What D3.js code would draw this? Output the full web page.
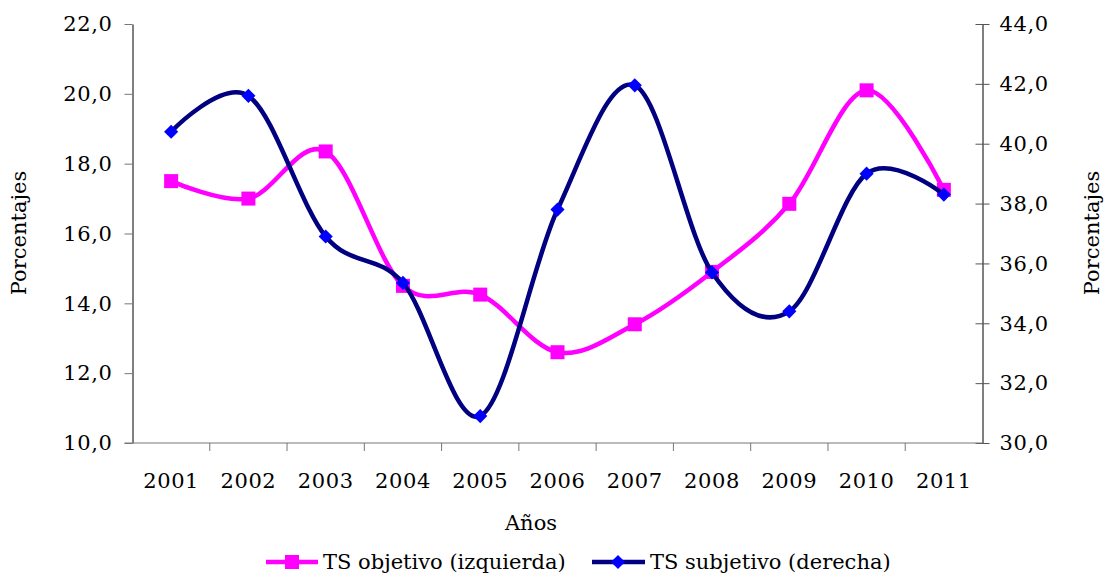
<!DOCTYPE html>
<html>
<head>
<meta charset="utf-8">
<script src="https://cdn.jsdelivr.net/npm/d3@7"></script>
<style>
  html, body { margin: 0; padding: 0; background: #fff; }
  svg { display: block; font-family: "DejaVu Serif", serif; }
</style>
</head>
<body>
<svg id="chart" width="1107" height="574"></svg>
<script>
const years = ["2001","2002","2003","2004","2005","2006","2007","2008","2009","2010","2011"];
const tsObjetivo = [17.5, 17.0, 18.35, 14.5, 14.25, 12.6, 13.4, 14.9, 16.85, 20.1, 17.25];
const tsSubjetivo = [40.4, 41.6, 36.9, 35.35, 30.9, 37.8, 41.95, 35.7, 34.4, 39.0, 38.3];
const leftTicks = [10, 12, 14, 16, 18, 20, 22];
const rightTicks = [30, 32, 34, 36, 38, 40, 42, 44];
const seriesNames = ["TS objetivo (izquierda)", "TS subjetivo (derecha)"];
const xTitle = "Años";
const yTitle = "Porcentajes";

(function () {
const svg = d3.select("#chart");
const pLeft = 132.5, pRight = 982.5, pTop = 24, pBottom = 443;
const fmt = d => d.toFixed(1).replace(".", ",");

const x = d3.scaleBand().domain(years).range([pLeft, pRight]);
const cx = d => x(d) + x.bandwidth() / 2;
const yL = d3.scaleLinear().domain([10, 22]).range([pBottom, pTop]);
const yR = d3.scaleLinear().domain([30, 44]).range([pBottom, pTop]);

const tickFont = "21px";
const ls = "0.6px";

// Left axis
const gL = svg.append("g").attr("transform", `translate(${pLeft},0)`)
  .call(d3.axisLeft(yL).tickValues(leftTicks).tickFormat(fmt).tickSize(8).tickSizeOuter(0).tickPadding(12));
gL.select(".domain").attr("stroke", "#000");
gL.selectAll(".tick line").attr("stroke", "#777");
gL.selectAll(".tick text").attr("font-size", tickFont).attr("font-family", "DejaVu Serif").attr("fill", "#000").attr("letter-spacing", ls);

// Right axis
const gR = svg.append("g").attr("transform", `translate(${pRight},0)`)
  .call(d3.axisRight(yR).tickValues(rightTicks).tickFormat(fmt).tickSize(7).tickSizeOuter(0).tickPadding(10));
gR.select(".domain").attr("stroke", "#000");
gR.selectAll(".tick line").attr("x1", -7).attr("stroke", "#555");
gR.selectAll(".tick text").attr("font-size", tickFont).attr("font-family", "DejaVu Serif").attr("fill", "#000").attr("letter-spacing", ls);

// Bottom axis
const gB = svg.append("g").attr("transform", `translate(0,${pBottom})`)
  .call(d3.axisBottom(x).tickSize(0).tickPadding(30));
gB.select(".domain").attr("stroke", "#777").attr("d", `M${pLeft - 8},0H${pRight}`);
gB.selectAll(".tick text").attr("font-size", tickFont).attr("font-family", "DejaVu Serif").attr("fill", "#000").attr("letter-spacing", ls);
const boundaries = years.map(d => x(d)).concat([x.range()[1]]);
gB.selectAll(".bt").data(boundaries.slice(1, -1)).enter().append("line")
  .attr("x1", d => d).attr("x2", d => d).attr("y1", 0).attr("y2", 8).attr("stroke", "#777");

// Titles
svg.append("text").attr("x", 531).attr("y", 530).attr("text-anchor", "middle")
  .attr("font-size", "21px").text(xTitle);
svg.append("text").attr("transform", "translate(26,233) rotate(-90)").attr("text-anchor", "middle")
  .attr("font-size", "21px").text(yTitle);
svg.append("text").attr("transform", "translate(1099,233) rotate(-90)").attr("text-anchor", "middle")
  .attr("font-size", "21px").text(yTitle);

const curve = d3.curveCardinal.tension(0);
const lineL = d3.line().x((d, i) => cx(years[i])).y(d => yL(d)).curve(curve);
const lineR = d3.line().x((d, i) => cx(years[i])).y(d => yR(d)).curve(curve);

const magenta = "#FF00FF", navy = "#000080", blue = "#0000FF";

svg.append("path").datum(tsObjetivo).attr("d", lineL).attr("fill", "none")
  .attr("stroke", magenta).attr("stroke-width", 4.5).attr("stroke-linejoin", "round");
svg.selectAll(".sq").data(tsObjetivo).enter().append("rect")
  .attr("x", (d, i) => cx(years[i]) - 7).attr("y", d => yL(d) - 7)
  .attr("width", 14).attr("height", 14).attr("fill", magenta);

svg.append("path").datum(tsSubjetivo).attr("d", lineR).attr("fill", "none")
  .attr("stroke", navy).attr("stroke-width", 4.5).attr("stroke-linejoin", "round");
svg.selectAll(".dm").data(tsSubjetivo).enter().append("rect")
  .attr("x", -5).attr("y", -5).attr("width", 10).attr("height", 10)
  .attr("transform", (d, i) => `translate(${cx(years[i])},${yR(d)}) rotate(45)`)
  .attr("fill", blue);

// Legend
const leg = svg.append("g");
leg.append("line").attr("x1", 266).attr("x2", 318).attr("y1", 562).attr("y2", 562)
  .attr("stroke", magenta).attr("stroke-width", 4.5);
leg.append("rect").attr("x", 285).attr("y", 555).attr("width", 14).attr("height", 14).attr("fill", magenta);
leg.append("text").attr("x", 323).attr("y", 569).attr("font-size", "21px").text(seriesNames[0]);
leg.append("line").attr("x1", 592).attr("x2", 645).attr("y1", 562).attr("y2", 562)
  .attr("stroke", navy).attr("stroke-width", 4.5);
leg.append("rect").attr("x", -5).attr("y", -5).attr("width", 10).attr("height", 10)
  .attr("transform", "translate(618,562) rotate(45)").attr("fill", blue);
leg.append("text").attr("x", 650).attr("y", 569).attr("font-size", "21px").text(seriesNames[1]);
})();
</script>
</body>
</html>
